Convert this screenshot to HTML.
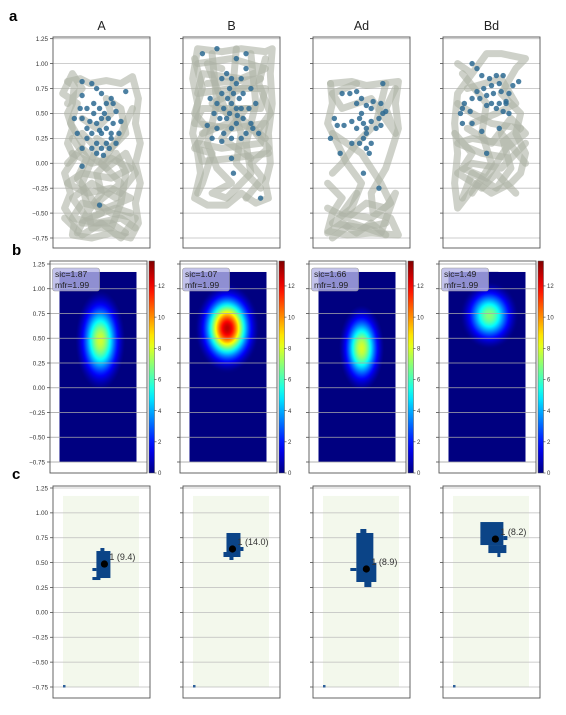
<!DOCTYPE html>
<html><head><meta charset="utf-8">
<style>
html,body{margin:0;padding:0;background:#fff;}
svg{display:block;font-family:"Liberation Sans","DejaVu Sans",sans-serif;}
</style></head>
<body>
<svg id="fig" width="566" height="715" viewBox="0 0 566 715" xmlns="http://www.w3.org/2000/svg">
<defs id="defs"></defs>
<text x="9" y="21" font-size="15" font-weight="bold">a</text>
<text x="12" y="255" font-size="15" font-weight="bold">b</text>
<text x="12" y="479" font-size="15" font-weight="bold">c</text>
</svg>
<script>
// ---- data ----
const conditions = ["A", "B", "Ad", "Bd"];
const yTicks = [1.25, 1.00, 0.75, 0.50, 0.25, 0.00, -0.25, -0.50, -0.75];
const sicValues = [1.87, 1.07, 1.66, 1.49];
const mfrValues = [1.99, 1.99, 1.99, 1.99];
const peakRates = [8.6, 13.5, 8.7, 7.6];
const fieldCenterX = [0.53, 0.49, 0.56, 0.53];
const fieldCenterY = [0.48, 0.60, 0.40, 0.73];
const fieldPeakLabels = [9.4, 14.0, 8.9, 8.2];
const centroidY = [0.486, 0.637, 0.436, 0.737];
const cbarTicks = [0, 2, 4, 6, 8, 10, 12];
const cbarMax = 13.6;

const grayPaths = [
 [[[0.15,0.82],[0.22,0.78],[0.2,0.6],[0.15,0.5],[0.2,0.35],[0.15,0.2],[0.22,0.05],[0.12,-0.1],[0.18,-0.3],[0.12,-0.45],[0.22,-0.6],[0.2,-0.72],[0.4,-0.75],[0.6,-0.7],[0.8,-0.75],[0.88,-0.6],[0.85,-0.4],[0.9,-0.2],[0.85,0.0],[0.9,0.2],[0.85,0.4],[0.88,0.65],[0.82,0.87],[0.7,0.8],[0.55,0.83],[0.38,0.8],[0.28,0.85],[0.15,0.82]],
  [[0.2,0.1],[0.4,0.0],[0.6,0.05],[0.8,-0.05],[0.6,-0.15],[0.3,-0.1],[0.15,-0.2],[0.35,-0.3],[0.6,-0.25],[0.8,-0.35],[0.55,-0.45],[0.3,-0.4],[0.2,-0.55],[0.45,-0.6],[0.7,-0.55],[0.85,-0.65]],
  [[0.25,-0.7],[0.35,-0.5],[0.5,-0.3],[0.45,-0.1],[0.65,0.1],[0.75,-0.1],[0.7,-0.4],[0.6,-0.65],[0.4,-0.65],[0.3,-0.2],[0.45,0.15],[0.3,0.3]],
  [[0.3,0.45],[0.45,0.35],[0.6,0.5],[0.55,0.65],[0.7,0.55],[0.75,0.3],[0.6,0.15],[0.45,0.25]],
  [[0.2,0.25],[0.35,0.05],[0.25,-0.15],[0.5,-0.5],[0.3,-0.6],[0.6,-0.6],[0.75,-0.7]],
  [[0.15,0.0],[0.3,0.15],[0.55,-0.05],[0.75,0.1],[0.85,-0.1],[0.65,-0.35],[0.4,-0.2],[0.2,-0.35],[0.35,-0.55],[0.65,-0.45],[0.8,-0.5]],
  [[0.12,-0.55],[0.3,-0.72],[0.5,-0.6],[0.7,-0.75],[0.85,-0.55],[0.6,-0.5],[0.45,-0.4],[0.7,-0.2],[0.5,0.0],[0.7,0.3],[0.82,0.55]],
  [[0.15,0.6],[0.3,0.75],[0.2,0.9],[0.1,0.7],[0.25,0.6],[0.18,0.4],[0.3,0.2]]],
 [[[0.15,1.15],[0.4,1.12],[0.6,1.15],[0.85,1.12],[0.92,1.15],[0.9,0.9],[0.92,0.6],[0.88,0.3],[0.9,0.0],[0.85,-0.2],[0.88,-0.35],[0.75,-0.4],[0.6,-0.3],[0.45,-0.42],[0.25,-0.42],[0.12,-0.35],[0.18,-0.1],[0.15,0.1],[0.1,0.3],[0.15,0.6],[0.1,0.85],[0.15,1.15]],
  [[0.15,1.0],[0.5,1.05],[0.85,0.95],[0.6,0.85],[0.2,0.9],[0.15,0.7],[0.5,0.75],[0.85,0.75],[0.8,0.55],[0.2,0.55],[0.12,0.4],[0.5,0.35],[0.85,0.4],[0.8,0.2],[0.4,0.15],[0.15,0.2],[0.2,0.02],[0.5,0.05],[0.88,0.1]],
  [[0.3,1.1],[0.35,0.6],[0.25,0.2],[0.35,-0.05],[0.5,-0.2],[0.3,-0.3],[0.45,-0.35],[0.7,-0.1],[0.65,0.2],[0.75,0.6],[0.7,1.1]],
  [[0.55,1.15],[0.5,0.6],[0.6,0.3],[0.55,0.0],[0.8,-0.25]],
  [[0.2,0.3],[0.6,0.45],[0.85,0.25],[0.3,0.6],[0.8,0.85],[0.25,0.8]],
  [[0.12,1.05],[0.2,0.75],[0.12,0.5],[0.25,0.35],[0.12,0.15],[0.3,0.1],[0.2,-0.2],[0.15,-0.3]],
  [[0.85,1.05],[0.78,0.8],[0.9,0.5],[0.75,0.3],[0.88,0.15],[0.7,0.0],[0.82,-0.15],[0.65,-0.35]],
  [[0.4,0.95],[0.25,1.0],[0.45,0.5],[0.65,0.55],[0.4,0.25],[0.7,0.05]]],
 [[[0.18,0.8],[0.4,0.82],[0.55,0.78],[0.7,0.8],[0.88,0.82],[0.85,0.6],[0.88,0.35],[0.8,0.1],[0.75,-0.05],[0.6,-0.3],[0.62,-0.5],[0.8,-0.55],[0.88,-0.72],[0.6,-0.7],[0.35,-0.72],[0.15,-0.68],[0.2,-0.5],[0.3,-0.35],[0.15,-0.2]],
  [[0.18,0.8],[0.2,0.6],[0.15,0.4],[0.25,0.2],[0.35,0.0],[0.5,-0.2],[0.4,-0.45],[0.2,-0.6],[0.5,-0.65],[0.75,-0.6]],
  [[0.2,0.3],[0.5,0.1],[0.7,-0.2],[0.8,-0.4],[0.6,-0.55],[0.3,-0.5],[0.45,-0.3]],
  [[0.75,0.8],[0.65,0.4],[0.45,0.2],[0.3,0.0],[0.2,-0.1]],
  [[0.15,-0.7],[0.3,-0.6],[0.45,-0.7],[0.6,-0.6],[0.75,-0.72]],
  [[0.15,-0.45],[0.35,-0.55],[0.55,-0.4],[0.75,-0.45],[0.85,-0.3],[0.7,-0.7],[0.4,-0.6],[0.2,-0.75]],
  [[0.85,0.75],[0.75,0.55],[0.85,0.3],[0.6,0.65],[0.3,0.55],[0.2,0.7],[0.45,0.8]]],
 [[[0.15,1.0],[0.3,0.9],[0.45,1.1],[0.6,1.1],[0.85,1.05],[0.75,0.95],[0.6,0.7],[0.8,0.5],[0.75,0.3],[0.85,0.1],[0.8,-0.1],[0.7,-0.2],[0.5,-0.3],[0.35,-0.2],[0.15,-0.45],[0.12,-0.2],[0.15,0.1],[0.12,0.4],[0.15,0.7],[0.3,0.9]],
  [[0.15,0.6],[0.3,0.5],[0.5,0.4],[0.8,0.35],[0.6,0.2],[0.3,0.25],[0.15,0.2],[0.4,0.1],[0.7,0.05],[0.85,0.2],[0.6,-0.05],[0.3,0.0],[0.15,-0.1],[0.4,-0.25],[0.55,-0.1],[0.75,-0.3]],
  [[0.2,0.9],[0.45,0.6],[0.4,0.3],[0.5,0.0],[0.3,-0.3]],
  [[0.25,0.75],[0.6,0.85],[0.75,0.6],[0.55,0.5],[0.3,0.4]],
  [[0.12,0.3],[0.3,0.1],[0.2,-0.05],[0.45,-0.15],[0.65,0.15],[0.85,0.3],[0.7,0.45],[0.5,0.2],[0.25,0.35]],
  [[0.2,-0.35],[0.3,-0.1],[0.55,-0.25],[0.7,-0.05],[0.6,0.3],[0.85,0.0]]]
];
const blueSpikes = [
 [[0.5,0.3],[0.55,0.35],[0.45,0.4],[0.6,0.3],[0.5,0.45],[0.4,0.3],[0.35,0.25],[0.55,0.2],[0.62,0.4],[0.48,0.55],[0.55,0.6],[0.42,0.6],[0.35,0.55],[0.28,0.55],[0.3,0.68],[0.45,0.75],[0.5,0.7],[0.6,0.65],[0.65,0.52],[0.7,0.42],[0.68,0.3],[0.58,0.15],[0.5,0.15],[0.45,0.2],[0.4,0.15],[0.35,0.35],[0.3,0.45],[0.22,0.45],[0.25,0.3],[0.3,0.15],[0.6,0.25],[0.52,0.08],[0.45,0.1],[0.65,0.2],[0.53,0.5],[0.48,0.33],[0.57,0.45],[0.3,0.82],[0.4,0.8],[0.75,0.72],[0.3,-0.03],[0.48,-0.42],[0.42,0.5],[0.38,0.42],[0.62,0.6]],
 [[0.45,0.9],[0.5,0.85],[0.55,0.8],[0.48,0.75],[0.4,0.7],[0.35,0.6],[0.42,0.55],[0.5,0.6],[0.58,0.65],[0.62,0.7],[0.55,0.55],[0.45,0.45],[0.38,0.45],[0.32,0.5],[0.35,0.35],[0.42,0.3],[0.5,0.35],[0.55,0.4],[0.62,0.45],[0.68,0.55],[0.7,0.4],[0.65,0.3],[0.6,0.25],[0.5,0.25],[0.4,0.22],[0.3,0.25],[0.25,0.38],[0.28,0.65],[0.6,0.85],[0.65,0.95],[0.7,0.75],[0.75,0.6],[0.72,0.35],[0.78,0.3],[0.52,0.7],[0.46,0.65],[0.56,0.48],[0.48,0.5],[0.6,0.55],[0.4,0.85],[0.2,1.1],[0.35,1.15],[0.55,1.05],[0.65,1.1],[0.5,0.05],[0.52,-0.1],[0.8,-0.35]],
 [[0.3,0.7],[0.38,0.7],[0.45,0.72],[0.5,0.65],[0.45,0.6],[0.55,0.58],[0.6,0.55],[0.5,0.5],[0.48,0.45],[0.4,0.42],[0.32,0.38],[0.25,0.38],[0.52,0.4],[0.6,0.42],[0.68,0.45],[0.72,0.5],[0.7,0.38],[0.65,0.35],[0.55,0.3],[0.52,0.25],[0.48,0.2],[0.4,0.2],[0.55,0.15],[0.58,0.1],[0.6,0.2],[0.28,0.1],[0.7,0.6],[0.75,0.52],[0.22,0.45],[0.18,0.25],[0.52,-0.1],[0.68,-0.25],[0.55,0.35],[0.45,0.35],[0.62,0.62],[0.72,0.8]],
 [[0.3,1.0],[0.35,0.95],[0.4,0.88],[0.48,0.85],[0.55,0.88],[0.62,0.88],[0.58,0.8],[0.5,0.78],[0.42,0.75],[0.35,0.72],[0.3,0.65],[0.38,0.65],[0.45,0.68],[0.52,0.7],[0.6,0.72],[0.68,0.7],[0.65,0.62],[0.58,0.6],[0.5,0.6],[0.45,0.58],[0.55,0.55],[0.62,0.52],[0.68,0.5],[0.72,0.78],[0.78,0.82],[0.2,0.55],[0.18,0.5],[0.22,0.6],[0.28,0.52],[0.2,0.4],[0.3,0.4],[0.4,0.32],[0.58,0.35],[0.45,0.1],[0.65,0.6]]
];

// ---- layout (pixels) ----
const NS = "http://www.w3.org/2000/svg";
const svg = document.getElementById("fig");
const defs = document.getElementById("defs");
const colA = [53, 183, 313, 443];
const colB = [50, 180, 309, 439];
const rows = {
  a: {top: 37, bot: 248, y125: 38.7, ym075: 238},
  b: {top: 261, bot: 473, y125: 264, ym075: 462},
  c: {top: 486, bot: 698, y125: 488, ym075: 687}
};
const W = 97;
function mk(tag, attrs, parent) {
  const e = document.createElementNS(NS, tag);
  for (const k in attrs) e.setAttribute(k, attrs[k]);
  (parent || svg).appendChild(e);
  return e;
}
function yScale(r, v) { return r.y125 + (1.25 - v) * (r.ym075 - r.y125) / 2.0; }
function jet(x) {
  x = Math.max(0, Math.min(1, x));
  const c = t => Math.round(255 * Math.max(0, Math.min(1, 1.5 - Math.abs(t))));
  return "rgb(" + c(4*x-3) + "," + c(4*x-2) + "," + c(4*x-1) + ")";
}
function drawAxes(r, x0, i, g) {
  const grid = mk("g", {}, g);
  
  
  yTicks.forEach(t => {
    const y = yScale(r, t);
    mk("line", {x1: x0, x2: x0 + W, y1: y, y2: y, stroke: "#bdbdbd", "stroke-width": 0.8}, grid);
    mk("line", {x1: x0 - 3, x2: x0, y1: y, y2: y, stroke: "#333", "stroke-width": 0.7}, grid);
    if (i === 0) {
      const tx = mk("text", {x: x0 - 5, y: y + 2.3, "font-size": 6.3, "text-anchor": "end", fill: "#333"}, grid);
      tx.textContent = (t < 0 ? "\u2212" : "") + Math.abs(t).toFixed(2);
      
      
    }
  });
}
function frame(r, x0, g) {
  const f = mk("rect", {x: x0, y: r.top, width: W, height: r.bot - r.top, fill: "none", stroke: "#555", "stroke-width": 0.9}, g);
  
  
}

// ---- row a: trajectories ----
conditions.forEach((name, i) => {
  const r = rows.a, x0 = colA[i];
  const g = mk("g", {});
  
  
  const t = mk("text", {x: x0 + W/2, y: 30, "font-size": 12.5, "text-anchor": "middle", fill: "#222"}, g);
  t.textContent = name;
  
  
  drawAxes(r, x0, i, g);
  grayPaths[i].forEach(p => {
    const pts = p.map(q => (x0 + q[0]*W).toFixed(1) + "," + yScale(r, q[1]).toFixed(1)).join(" ");
    const pl = mk("polyline", {points: pts, fill: "none", stroke: "#aeb2a5", "stroke-opacity": 0.6, "stroke-width": 7, "stroke-linecap": "round", "stroke-linejoin": "round"}, g);
    
    
  });
  blueSpikes[i].forEach(q => {
    const c = mk("circle", {cx: x0 + q[0]*W, cy: yScale(r, q[1]), r: 2.7, fill: "#2d6a92", "fill-opacity": 0.85}, g);
    
    
  });
  frame(r, x0, g);
});

// ---- row b: rate maps ----
const blobSX = [11, 13, 10, 13];
const blobSY = [22, 18, 19, 15];
conditions.forEach((name, i) => {
  const r = rows.b, x0 = colB[i];
  const g = mk("g", {});
  
  
  drawAxes(r, x0, i, g);
  const ix = x0 + 9.5, iw = 77, iy = yScale(r, 1.17), ih = yScale(r, -0.75) - iy;
  const cp = mk("clipPath", {id: "clip" + i}, defs);
  mk("rect", {x: ix, y: iy, width: iw, height: ih}, cp);
  const img = mk("g", {"clip-path": "url(#clip" + i + ")"}, g);
  
  
  mk("rect", {x: ix, y: iy, width: iw, height: ih, fill: jet(0)}, img);
  const grad = mk("radialGradient", {id: "rg" + i, cx: "50%", cy: "50%", r: "50%"}, defs);
  for (let k = 0; k <= 24; k++) {
    const tt = k / 24, v = Math.max(0, peakRates[i] * Math.exp(-Math.pow(3*tt, 2) / 2) - 0.7);
    mk("stop", {offset: (tt*100) + "%", "stop-color": jet(v / cbarMax)}, grad);
  }
  mk("ellipse", {cx: ix + fieldCenterX[i]*iw, cy: yScale(r, fieldCenterY[i]), rx: 3*blobSX[i], ry: 3*blobSY[i], fill: "url(#rg" + i + ")"}, img);
  yTicks.forEach(t => mk("line", {x1: x0, x2: x0 + W, y1: yScale(r, t), y2: yScale(r, t), stroke: "#aaa", "stroke-width": 0.7}, g));
  const bx = mk("rect", {x: x0 + 2.5, y: 268, width: 47, height: 23, rx: 2.5, fill: "#b3b3e6", "fill-opacity": 0.8, stroke: "#999", "stroke-width": 0.6}, g);
  
  
  const t1 = mk("text", {x: x0 + 5, y: 277, "font-size": 8.6, fill: "#222"}, g);
  t1.textContent = "sic=" + sicValues[i].toFixed(2);
  
  
  const t2 = mk("text", {x: x0 + 5, y: 288, "font-size": 8.6, fill: "#222"}, g);
  t2.textContent = "mfr=" + mfrValues[i].toFixed(2);
  
  
  frame(r, x0, g);
  const cb = mk("g", {}, g);
  
  
  const cx0 = x0 + 99, cw = 5.5, ctop = r.top, cbot = r.bot;
  const lg = mk("linearGradient", {id: "cbg" + i, x1: 0, y1: 1, x2: 0, y2: 0}, defs);
  for (let k = 0; k <= 20; k++) mk("stop", {offset: (k*5) + "%", "stop-color": jet(k/20)}, lg);
  mk("rect", {x: cx0, y: ctop, width: cw, height: cbot - ctop, fill: "url(#cbg" + i + ")", stroke: "#555", "stroke-width": 0.5}, cb);
  cbarTicks.forEach(v => {
    const y = cbot - (v / cbarMax) * (cbot - ctop);
    mk("line", {x1: cx0 + cw, x2: cx0 + cw + 2, y1: y, y2: y, stroke: "#333", "stroke-width": 0.6}, cb);
    const tl = mk("text", {x: cx0 + cw + 3.5, y: y + 2.2, "font-size": 6, fill: "#333"}, cb);
    tl.textContent = v;
    
    
  });
});

// ---- row c: place fields ----
const blobRects = [
 [[-8,-13,14,27],[-4,-16,4,3],[-12,4,4,3],[-12,13,8,3]],
 [[-6,-16,14,24],[-9,3,14,5],[-3,8,4,3],[8,-2,3,4]],
 [[-10,-36,17,30],[-10,-6,20,19],[-16,-1,6,3],[-2,13,7,5],[-6,-40,6,4]],
 [[-15,-17,23,23],[-7,6,18,8],[2,14,3,4],[8,-3,4,4]]
];
const centroidX = [0.53, 0.51, 0.55, 0.54];
conditions.forEach((name, i) => {
  const r = rows.c, x0 = colA[i];
  const g = mk("g", {});
  
  
  const bg = mk("rect", {x: x0 + 10, y: yScale(r, 1.17), width: 76, height: yScale(r, -0.75) - yScale(r, 1.17), fill: "#f3f8ec"}, g);
  
  
  drawAxes(r, x0, i, g);
  const cx = x0 + centroidX[i]*W, cy = yScale(r, centroidY[i]);
  const fg = mk("g", {}, g);
  
  
  blobRects[i].forEach(b => mk("rect", {x: cx + b[0], y: cy + b[1], width: b[2], height: b[3], fill: "#0b4487"}, fg));
  const d = mk("circle", {cx: cx, cy: cy, r: 3.6, fill: "#000"}, g);
  
  
  const lb = mk("text", {x: cx + 5, y: cy - 4, "font-size": 9, fill: "#333"}, g);
  lb.textContent = "1 (" + fieldPeakLabels[i].toFixed(1) + ")";
  
  
  mk("rect", {x: x0 + 10, y: yScale(r, -0.75) - 2, width: 2.5, height: 2.5, fill: "#2d5f9a"}, g);
  frame(r, x0, g);
});
</script>
</body></html>
